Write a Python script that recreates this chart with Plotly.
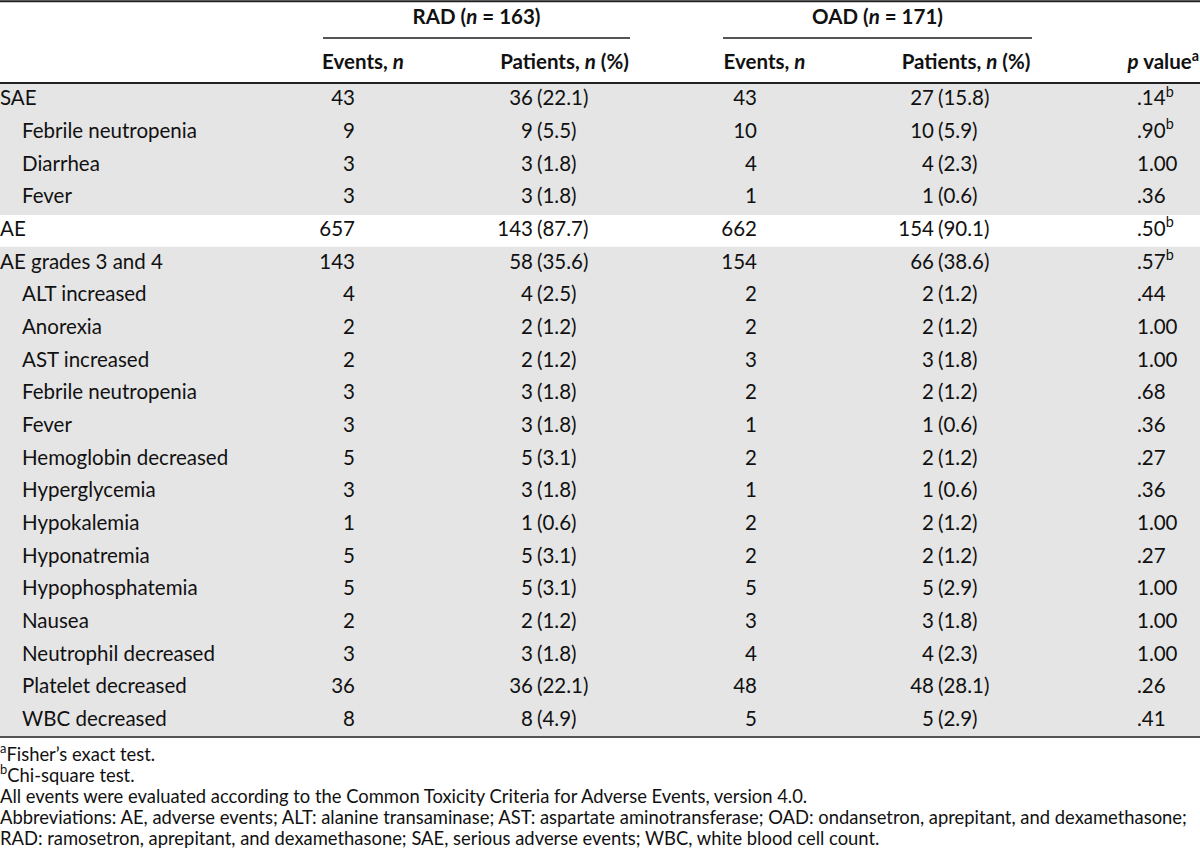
import plotly.graph_objects as go

# ---------------- data ----------------
row_labels = ["SAE", "Febrile neutropenia", "Diarrhea", "Fever", "AE", "AE grades 3 and 4",
              "ALT increased", "Anorexia", "AST increased", "Febrile neutropenia", "Fever",
              "Hemoglobin decreased", "Hyperglycemia", "Hypokalemia", "Hyponatremia",
              "Hypophosphatemia", "Nausea", "Neutrophil decreased", "Platelet decreased",
              "WBC decreased"]
row_indent = [0, 1, 1, 1, 0, 0, 1, 1, 1, 1, 1, 1, 1, 1, 1, 1, 1, 1, 1, 1]
row_shaded = [1, 1, 1, 1, 0, 1, 1, 1, 1, 1, 1, 1, 1, 1, 1, 1, 1, 1, 1, 1]

rad_events = [43, 9, 3, 3, 657, 143, 4, 2, 2, 3, 3, 5, 3, 1, 5, 5, 2, 3, 36, 8]
rad_patients = [36, 9, 3, 3, 143, 58, 4, 2, 2, 3, 3, 5, 3, 1, 5, 5, 2, 3, 36, 8]
rad_pct = [22.1, 5.5, 1.8, 1.8, 87.7, 35.6, 2.5, 1.2, 1.2, 1.8, 1.8, 3.1, 1.8, 0.6, 3.1, 3.1,
           1.2, 1.8, 22.1, 4.9]

oad_events = [43, 10, 4, 1, 662, 154, 2, 2, 3, 2, 1, 2, 1, 2, 2, 5, 3, 4, 48, 5]
oad_patients = [27, 10, 4, 1, 154, 66, 2, 2, 3, 2, 1, 2, 1, 2, 2, 5, 3, 4, 48, 5]
oad_pct = [15.8, 5.9, 2.3, 0.6, 90.1, 38.6, 1.2, 1.2, 1.8, 1.2, 0.6, 1.2, 0.6, 1.2, 1.2, 2.9,
           1.8, 2.3, 28.1, 2.9]

p_values = [".14", ".90", "1.00", ".36", ".50", ".57", ".44", "1.00", "1.00", ".68", ".36",
            ".27", ".36", "1.00", ".27", "1.00", "1.00", "1.00", ".26", ".41"]
p_notes = ["b", "b", "", "", "b", "b", "", "", "", "", "", "", "", "", "", "", "", "", "", ""]

group_headers = ["RAD (<i>n</i> = 163)", "OAD (<i>n</i> = 171)"]
sub_headers = ["Events, <i>n</i>", "Patients, <i>n</i> (%)", "Events, <i>n</i>",
               "Patients, <i>n</i> (%)"]
p_header = "<i>p</i> value<sup>a</sup>"

footnotes = [
    "<sup>a</sup>Fisher\u2019s exact test.",
    "<sup>b</sup>Chi-square test.",
    "All events were evaluated according to the Common Toxicity Criteria for Adverse Events, version 4.0.",
    "Abbreviations: AE, adverse events; ALT: alanine transaminase; AST: aspartate aminotransferase; OAD: ondansetron, aprepitant, and dexamethasone;",
    "RAD: ramosetron, aprepitant, and dexamethasone; SAE, serious adverse events; WBC, white blood cell count.",
]

# ---------------- layout constants ----------------
W, H = 1200, 852
FONT = "Lato, 'Open Sans', sans-serif"
FS = 20.5
FS_FOOT = 18.4
TXT = "#111111"
GRAY = "#e5e5e5"

TABLE_TOP = 84
ROW_H = 32.65
n = len(row_labels)
row_y = [TABLE_TOP + (i + 0.5) * ROW_H for i in range(n)]
TABLE_BOTTOM = TABLE_TOP + n * ROW_H

X_LABEL = 0
X_INDENT = 22
X_RAD_EV = 355
X_RAD_PAT = 533
X_OAD_EV = 757
X_OAD_PAT = 934
X_P = 1137
GAP = 4

fig = go.Figure()

shapes = []
# shaded bands
for i in range(n):
    if row_shaded[i]:
        shapes.append(dict(type="rect", xref="x", yref="y", x0=0, x1=W,
                           y0=TABLE_TOP + i * ROW_H - 0.5, y1=TABLE_TOP + (i + 1) * ROW_H + 0.5,
                           fillcolor=GRAY, line=dict(width=0), layer="below"))
# rules
shapes.append(dict(type="line", xref="x", yref="y", x0=0, x1=W, y0=1.2, y1=1.2,
                   line=dict(color="#222", width=2)))
shapes.append(dict(type="line", xref="x", yref="y", x0=0, x1=W, y0=TABLE_TOP - 1, y1=TABLE_TOP - 1,
                   line=dict(color="#222", width=2)))
shapes.append(dict(type="line", xref="x", yref="y", x0=0, x1=W, y0=TABLE_BOTTOM, y1=TABLE_BOTTOM,
                   line=dict(color="#222", width=1.5)))
group_spans = [(323, 630), (723, 1032)]
for (a, b) in group_spans:
    shapes.append(dict(type="line", xref="x", yref="y", x0=a, x1=b, y0=38, y1=38,
                       line=dict(color="#555", width=2)))


def text_trace(xs, ys, texts, pos, size=FS, color=TXT):
    return go.Scatter(x=xs, y=ys, text=texts, mode="text", textposition=pos,
                      textfont=dict(family=FONT, size=size, color=color),
                      hoverinfo="skip", showlegend=False, cliponaxis=False)


# group headers
fig.add_trace(text_trace([(a + b) / 2 for a, b in group_spans], [19, 19],
                         ["<b>" + g + "</b>" for g in group_headers], "middle center"))
# sub headers
sub_x = [363, 564.5, 764.5, 966]
fig.add_trace(text_trace(sub_x, [64] * 4, ["<b>" + s + "</b>" for s in sub_headers], "middle center"))
fig.add_trace(text_trace([1199], [64], ["<b>" + p_header + "</b>"], "middle left"))

# row labels
lab_x = [X_INDENT if ind else X_LABEL for ind in row_indent]
fig.add_trace(text_trace(lab_x, row_y, row_labels, "middle right"))

# events
fig.add_trace(text_trace([X_RAD_EV] * n, row_y, [str(v) for v in rad_events], "middle left"))
fig.add_trace(text_trace([X_OAD_EV] * n, row_y, [str(v) for v in oad_events], "middle left"))

# patients: count right-aligned, percentage left-aligned
fig.add_trace(text_trace([X_RAD_PAT] * n, row_y, [str(v) for v in rad_patients], "middle left"))
fig.add_trace(text_trace([X_RAD_PAT + GAP] * n, row_y, ["(%.1f)" % v for v in rad_pct], "middle right"))
fig.add_trace(text_trace([X_OAD_PAT] * n, row_y, [str(v) for v in oad_patients], "middle left"))
fig.add_trace(text_trace([X_OAD_PAT + GAP] * n, row_y, ["(%.1f)" % v for v in oad_pct], "middle right"))

# p values
p_txt = [p + ("<sup>%s</sup>" % s if s else "") for p, s in zip(p_values, p_notes)]
fig.add_trace(text_trace([X_P] * n, row_y, p_txt, "middle right"))

# footnotes
foot_y = [TABLE_BOTTOM + 19 + k * 21 for k in range(len(footnotes))]
fig.add_trace(text_trace([0] * len(footnotes), foot_y, footnotes, "middle right", size=FS_FOOT))

fig.update_layout(
    width=W, height=H,
    margin=dict(l=0, r=0, t=0, b=0),
    paper_bgcolor="white", plot_bgcolor="white",
    shapes=shapes,
    xaxis=dict(range=[0, W], visible=False, fixedrange=True),
    yaxis=dict(range=[H, 0], visible=False, fixedrange=True),
    showlegend=False,
)

fig.write_html("out.html", config={"displayModeBar": False, "staticPlot": True},
               post_script="document.body.style.margin='0';document.body.style.overflow='hidden';")
